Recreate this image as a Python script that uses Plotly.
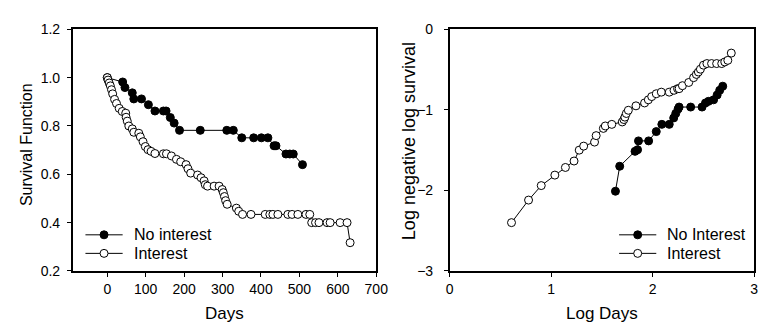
import plotly.graph_objects as go

# ---------------- data: left panel (Kaplan-Meier survival) ----------------
days_no_interest = [0, 40, 46, 65, 69, 89, 107, 124, 146, 153, 164, 174, 188, 242, 311, 328,
                    350, 381, 401, 418, 434, 439, 465, 475, 484, 508]
surv_no_interest = [1.0, 0.982, 0.959, 0.937, 0.912, 0.912, 0.888, 0.862, 0.862, 0.862, 0.835,
                    0.812, 0.782, 0.782, 0.782, 0.782, 0.751, 0.751, 0.751, 0.751, 0.718, 0.718,
                    0.684, 0.684, 0.684, 0.64]

days_interest = [0, 2, 5, 8, 11, 14, 19, 24, 31, 39, 48, 49, 52, 56, 65, 69, 82, 86, 93, 99,
                 106, 114, 124, 146, 154, 167, 180, 191, 205, 210, 217, 235, 244, 252, 255, 261,
                 278, 291, 299, 302, 305, 308, 312, 336, 342, 352, 374, 411, 423, 431, 444, 470,
                 481, 496, 517, 527, 532, 542, 551, 572, 580, 606, 624, 632]
surv_interest = [1.0, 0.99, 0.978, 0.966, 0.95, 0.933, 0.91, 0.893, 0.873, 0.86, 0.853, 0.836,
                 0.82, 0.80, 0.788, 0.774, 0.77, 0.755, 0.735, 0.715, 0.702, 0.695, 0.686, 0.685,
                 0.685, 0.676, 0.662, 0.652, 0.64, 0.623, 0.605, 0.597, 0.586, 0.573, 0.557, 0.551,
                 0.551, 0.551, 0.537, 0.524, 0.508, 0.491, 0.476, 0.46, 0.447, 0.434, 0.434, 0.434,
                 0.434, 0.434, 0.434, 0.434, 0.434, 0.434, 0.434, 0.434, 0.40, 0.40, 0.40, 0.40,
                 0.40, 0.40, 0.40, 0.317]

# ---------------- data: right panel (log negative log survival) ----------------
logdays_no_interest = [1.633, 1.675, 1.826, 1.851, 1.86, 1.96, 2.035, 2.09, 2.163, 2.207, 2.227,
                       2.25, 2.26, 2.374, 2.486, 2.52, 2.55, 2.60, 2.635, 2.66, 2.69]
lnl_no_interest = [-2.01, -1.70, -1.515, -1.495, -1.385, -1.385, -1.27, -1.18, -1.18, -1.10,
                   -1.045, -0.99, -0.965, -0.965, -0.965, -0.914, -0.894, -0.875, -0.815, -0.757,
                   -0.706]

logdays_interest = [0.609, 0.777, 0.902, 1.036, 1.14, 1.225, 1.276, 1.32, 1.427, 1.443, 1.514,
                    1.533, 1.597, 1.70, 1.716, 1.726, 1.74, 1.76, 1.835, 1.92, 1.957, 1.99, 2.035,
                    2.085, 2.163, 2.21, 2.245, 2.26, 2.293, 2.355, 2.403, 2.43, 2.45, 2.47, 2.50,
                    2.534, 2.58, 2.63, 2.68, 2.71, 2.74, 2.774]
lnl_interest = [-2.40, -2.12, -1.94, -1.81, -1.715, -1.635, -1.50, -1.45, -1.40, -1.32, -1.23,
                -1.20, -1.18, -1.15, -1.12, -1.09, -1.045, -1.005, -0.95, -0.914, -0.875, -0.835,
                -0.80, -0.78, -0.78, -0.757, -0.737, -0.737, -0.70, -0.66, -0.60, -0.56, -0.53,
                -0.495, -0.445, -0.425, -0.425, -0.425, -0.425, -0.405, -0.385, -0.295]

left_xticks = [0, 100, 200, 300, 400, 500, 600, 700]
left_yticks = [0.2, 0.4, 0.6, 0.8, 1.0, 1.2]
right_xticks = [0, 1, 2, 3]
right_yticks = [-3, -2, -1, 0]

legend_left = ["No interest", "Interest"]
legend_right = ["No Interest", "Interest"]

W, H = 768, 329
FONT = "Liberation Sans, Arial, sans-serif"

fig = go.Figure()

def filled(x, y, xa, ya):
    return go.Scatter(x=x, y=y, xaxis=xa, yaxis=ya, mode="lines+markers",
                      line=dict(color="black", width=1),
                      marker=dict(symbol="circle", size=8, color="black",
                                  line=dict(color="black", width=1)),
                      showlegend=False, hoverinfo="skip")

def hollow(x, y, xa, ya):
    return go.Scatter(x=x, y=y, xaxis=xa, yaxis=ya, mode="lines+markers",
                      line=dict(color="black", width=1),
                      marker=dict(symbol="circle", size=8, color="white",
                                  line=dict(color="black", width=1)),
                      showlegend=False, hoverinfo="skip")

fig.add_trace(filled(days_no_interest, surv_no_interest, "x", "y"))
fig.add_trace(hollow(days_interest, surv_interest, "x", "y"))
fig.add_trace(filled(logdays_no_interest, lnl_no_interest, "x2", "y2"))
fig.add_trace(hollow(logdays_interest, lnl_interest, "x2", "y2"))

ydom = [1 - 268 / H, 1 - 14 / H]
axis_common = dict(showline=True, linecolor="black", linewidth=1.5, mirror=True,
                   ticks="outside", ticklen=4, tickwidth=1, tickcolor="black",
                   showgrid=False, zeroline=False,
                   tickfont=dict(family=FONT, size=14, color="black"))

fig.update_layout(
    width=W, height=H,
    margin=dict(l=0, r=0, t=0, b=0),
    paper_bgcolor="white", plot_bgcolor="white",
    showlegend=False,
    xaxis=dict(domain=[62 / W, 372 / W], range=[-90, 700], tickvals=left_xticks,
               anchor="y", **axis_common),
    yaxis=dict(domain=ydom, range=[0.2, 1.2], tickvals=left_yticks, tickformat=".1f",
               anchor="x", ticklabelstandoff=4, **axis_common),
    xaxis2=dict(domain=[447 / W, 758 / W], range=[0, 3], tickvals=right_xticks,
                anchor="y2", **axis_common),
    yaxis2=dict(domain=ydom, range=[-3, 0], tickvals=right_yticks,
                anchor="x2", ticklabelstandoff=8, **axis_common),
)

def px(xp):
    return xp / W

def py(yp):
    return 1 - yp / H

annotations = [
    dict(text="Days", x=px(217), y=py(313), font=dict(size=17)),
    dict(text="Log Days", x=px(603), y=py(313), font=dict(size=17)),
    dict(text="Survival Function", x=px(15), y=py(135), textangle=-90, font=dict(size=16)),
    dict(text="Log negative log survival", x=px(405), y=py(132), textangle=-90,
         font=dict(size=18)),
]
for a in annotations:
    a.update(xref="paper", yref="paper", showarrow=False, xanchor="center", yanchor="middle")
    a["font"].update(family=FONT, color="black")
    fig.add_annotation(**a)

# manual legends
shapes = []
def legend_row(x0, x1, xtext, yrow, label, fill):
    shapes.append(dict(type="line", xref="paper", yref="paper",
                       x0=px(x0), x1=px(x1), y0=py(yrow), y1=py(yrow),
                       line=dict(color="black", width=1)))
    shapes.append(dict(type="circle", xref="paper", yref="paper",
                       xsizemode="pixel", ysizemode="pixel",
                       xanchor=px((x0 + x1) / 2), yanchor=py(yrow),
                       x0=-4, x1=4, y0=-4, y1=4,
                       fillcolor=fill, line=dict(color="black", width=1)))
    fig.add_annotation(text=label, xref="paper", yref="paper", x=px(xtext), y=py(yrow),
                       xanchor="left", yanchor="middle", showarrow=False, height=19,
                       font=dict(family=FONT, size=16, color="black"))

legend_row(75, 113, 123, 230, legend_left[0], "black")
legend_row(75, 113, 123, 249.5, legend_left[1], "white")
legend_row(620, 658, 667, 230, legend_right[0], "black")
legend_row(620, 658, 667, 249.5, legend_right[1], "white")

fig.update_layout(shapes=shapes)

fig.write_html("out.html")
